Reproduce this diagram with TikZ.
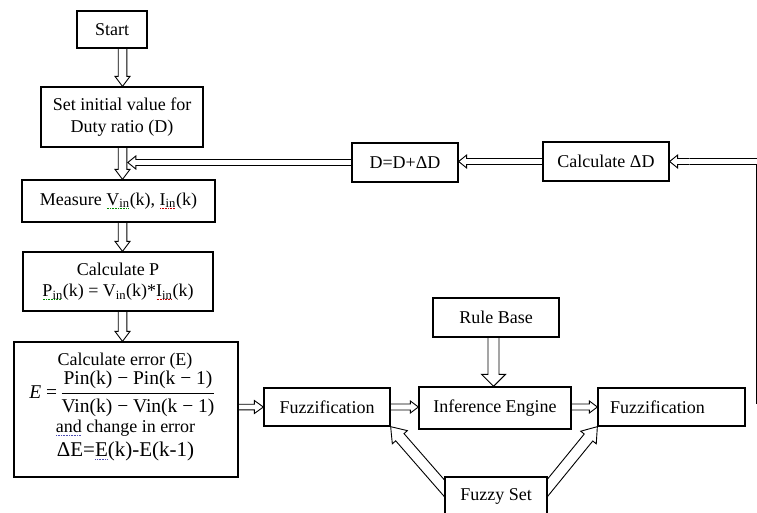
\documentclass[tikz,border=0pt]{standalone}
\usepackage{fontspec}
\setmainfont{Liberation Serif}
\usetikzlibrary{calc}
\pgfdeclarelayer{bg}
\pgfsetlayers{bg,main}
\newcommand\sqg[2]{\setbox0\hbox{#2}\rlap{\copy0}\raisebox{-3.5pt}{\color{#1}\leaders\hbox to 1.6pt{\hss\rule{0.9pt}{0.8pt}\hss}\hskip\wd0}}
\colorlet{sqgreen}{green!55!black}
\colorlet{sqred}{red!80!black}
\colorlet{sqblue}{blue!40!gray}
\tikzset{
 box/.style={draw, line width=1.3pt, fill=white, inner sep=0pt, align=center, font=\fontsize{18}{21.5}\selectfont},
 txt/.style={inner sep=0pt, align=center, font=\fontsize{18}{21.5}\selectfont},
 blk/.style n args={3}{draw, line width=0.9pt, line join=miter, to path={let \p1=($(\tikztotarget)!#2!(\tikztostart)$) in ($(\tikztostart)!#1!90:(\tikztotarget)$) -- ($(\p1)!#1!90:(\tikztotarget)$) -- ($(\p1)!#3!90:(\tikztotarget)$) -- (\tikztotarget) -- ($(\p1)!#3!-90:(\tikztotarget)$) -- ($(\p1)!#1!-90:(\tikztotarget)$) -- ($(\tikztostart)!#1!-90:(\tikztotarget)$)}},
 dbl/.style={draw, line width=0.9pt, double, double distance=#1, line join=miter}
}
\begin{document}
\begin{tikzpicture}[x=1pt,y=-1pt]
\useasboundingbox (0,0) rectangle (757,512);
% boxes
\node[box, minimum width=70pt, minimum height=37pt] (start) at (112,29.5) {Start};
\node[box, minimum width=162pt, minimum height=60pt] (set) at (122,117) {Set initial value for\\Duty ratio (D)};
\node[box, minimum width=193pt, minimum height=42pt] (meas) at (118.5,201) {Measure \sqg{sqgreen}{V\textsubscript{in}}(k), \sqg{sqred}{I\textsubscript{in}}(k)};
\node[box, minimum width=190pt, minimum height=59pt] (calcp) at (118,281.5) {Calculate P\\\sqg{sqgreen}{P\textsubscript{in}}(k) = V\textsubscript{in}(k)*\sqg{sqred}{I\textsubscript{in}}(k)};
\node[box, minimum width=224pt, minimum height=135pt] (err) at (126,409.5) {};
\node[txt] (errA) at (125,361) {Calculate error (E)};
\node[txt, font=\fontsize{19.5}{22}\selectfont] (errB) at (122.5,394) {\textit{E} =\,$\displaystyle\frac{\mbox{Pin(k) − Pin(k − 1)}}{\mbox{Vin(k) − Vin(k − 1)}}$};
\node[txt] (errC) at (125.5,428) {\sqg{sqblue}{and} change in error};
\node[txt, font=\fontsize{21}{24}\selectfont] (errD) at (125.5,451) {ΔE=\sqg{sqblue}{E}(k)-E(k-1)};
\node[box, minimum width=106pt, minimum height=39pt] (dd) at (405,162.5) {D=D+ΔD};
\node[box, minimum width=126pt, minimum height=39pt] (cdd) at (606,161.5) {Calculate ΔD};
\node[box, minimum width=126pt, minimum height=39pt] (rule) at (496,317.5) {Rule Base};
\node[box, minimum width=152pt, minimum height=42pt] (inf) at (495,408) {Inference Engine};
\node[box, minimum width=126pt, minimum height=38pt] (fz1) at (327,407) {Fuzzification};
\node[box, minimum width=147pt, minimum height=38pt, text width=123pt, inner xsep=12pt, align=left] (fz2) at (671.5,407) {Fuzzification};
\node[box, minimum width=102pt, minimum height=38pt] (fset) at (496,496) {Fuzzy Set};
% helper coordinates
\coordinate (ax) at (122.5,0);
\coordinate (jn) at (127.8,162);
\coordinate (c1) at (759.5,0);
\coordinate (fsl) at (452,497);
\coordinate (fsr) at (540,497);
\coordinate (rb) at ([xshift=-2.5pt]rule.south);
\coordinate (q) at ($(cdd.east)+(20,0)$);
% connectors
\begin{pgfonlayer}{bg}
\draw[blk={4.3pt}{10pt}{7.5pt}] (start.south -| ax) to (set.north -| ax);
\draw[blk={4.3pt}{10pt}{7.5pt}] (set.south -| ax) to (meas.north -| ax);
\draw[blk={4.3pt}{10pt}{7.5pt}] (meas.south -| ax) to (calcp.north -| ax);
\draw[blk={4.3pt}{10pt}{7.5pt}] (calcp.south -| ax) to (err.north -| ax);
\draw[blk={2.8pt}{9pt}{6.5pt}] (err.east |- fz1.west) to (fz1.west);
\draw[blk={3pt}{8pt}{6pt}] (fz1.east) to (fz1.east -| inf.west);
\draw[blk={3pt}{8pt}{6pt}] (inf.east |- fz2.west) to (fz2.west);
\draw[blk={5.5pt}{12pt}{12pt}] (rb) to (rb |- inf.north);
\draw[blk={5.5pt}{14pt}{10pt}] (fsl) to (fz1.south east);
\draw[blk={5.5pt}{14pt}{10pt}] (fsr) to (fz2.south west);
\draw[dbl=5.1pt] (fz2.east) -- (c1 |- fz2.east) -- (c1 |- cdd.east) -- (q);
\draw[blk={3pt}{8pt}{6.5pt}] (q) to (cdd.east);
\draw[blk={3pt}{8pt}{6.5pt}] (cdd.west) to (cdd.west -| dd.east);
\draw[blk={3pt}{8pt}{6.5pt}] (dd.west) to (dd.west -| jn);
\end{pgfonlayer}
\end{tikzpicture}
\end{document}
